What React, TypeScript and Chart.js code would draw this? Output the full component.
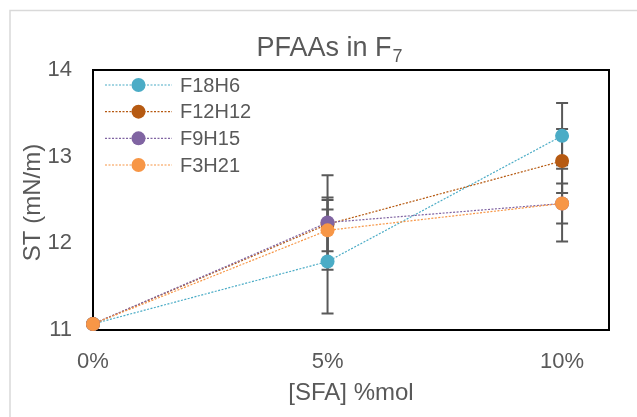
import { useEffect, useRef } from 'react';
import { Chart, registerables } from 'chart.js';

Chart.register(...registerables);

const xValues = [0, 5, 10];
const xTickValues = [0, 5, 10];
const yTickValues = [11, 12, 13, 14];
const seriesNames = ['F18H6', 'F12H12', 'F9H15', 'F3H21'];
const f18h6 = [11.07, 11.79, 13.24];
const f12h12 = [11.07, 12.22, 12.95];
const f9h15 = [11.07, 12.24, 12.46];
const f3h21 = [11.07, 12.15, 12.46];
const f18h6Err = [0, 0.6, 0.38];
const f12h12Err = [0, 0.31, 0.37];
const f9h15Err = [0, 0.545, 0.44];
const f3h21Err = [0, 0.35, 0.23];
const seriesColors = ['#4BACC6', '#B65A12', '#8064A2', '#F79646'];
const chartTitle = 'PFAAs in F';
const chartTitleSub = '7';
const xTitle = '[SFA] %mol';
const yTitle = 'ST (mN/m)';

const FONT = "'Liberation Sans', Arial, sans-serif";
const TEXT = '#595959';

export default function App() {
  const ref = useRef<HTMLCanvasElement | null>(null);

  useEffect(() => {
    if (!ref.current) return;
    const values = [f18h6, f12h12, f9h15, f3h21];
    const errs = [f18h6Err, f12h12Err, f9h15Err, f3h21Err];

    const datasets = seriesNames.map((name, i) => ({
      label: name,
      data: xValues.map((x, j) => ({ x, y: values[i][j] })),
      borderColor: seriesColors[i],
      backgroundColor: seriesColors[i],
      borderWidth: 1.2,
      borderDash: [2, 1.5],
      pointRadius: 7,
      pointHoverRadius: 7,
      pointBorderWidth: 0,
      pointBackgroundColor: seriesColors[i],
      showLine: true,
      clip: false as any,
      order: seriesNames.length - 1 - i,
    }));

    const decor = {
      id: 'decor',
      beforeDraw(chart: any) {
        const ctx = chart.ctx;
        ctx.save();
        ctx.strokeStyle = '#D9D9D9';
        ctx.lineWidth = 1.5;
        ctx.beginPath();
        ctx.moveTo(10, 417);
        ctx.lineTo(10, 10.5);
        ctx.lineTo(637, 10.5);
        ctx.stroke();
        ctx.restore();
      },
      beforeDatasetsDraw(chart: any) {
        const ctx = chart.ctx;
        const a = chart.chartArea;
        const xs = chart.scales.x;
        const ys = chart.scales.y;
        ctx.save();
        ctx.strokeStyle = '#000000';
        ctx.lineWidth = 2;
        ctx.strokeRect(a.left, a.top, a.right - a.left, a.bottom - a.top);
        ctx.strokeStyle = '#595959';
        ctx.lineWidth = 2;
        for (let i = 0; i < seriesNames.length; i++) {
          for (let j = 0; j < xValues.length; j++) {
            const e = errs[i][j];
            if (!e) continue;
            const px = xs.getPixelForValue(xValues[j]);
            const top = ys.getPixelForValue(values[i][j] + e);
            const bot = ys.getPixelForValue(values[i][j] - e);
            ctx.beginPath();
            ctx.moveTo(px, top);
            ctx.lineTo(px, bot);
            ctx.moveTo(px - 6, top);
            ctx.lineTo(px + 6, top);
            ctx.moveTo(px - 6, bot);
            ctx.lineTo(px + 6, bot);
            ctx.stroke();
          }
        }
        ctx.restore();
      },
      afterDraw(chart: any) {
        const ctx = chart.ctx;
        const a = chart.chartArea;
        ctx.save();
        ctx.fillStyle = TEXT;
        // title
        ctx.font = `27px ${FONT}`;
        const w1 = ctx.measureText(chartTitle).width;
        ctx.font = `18px ${FONT}`;
        const w2 = ctx.measureText(chartTitleSub).width;
        const start = 329 - (w1 + w2) / 2;
        ctx.textBaseline = 'alphabetic';
        ctx.textAlign = 'left';
        ctx.font = `27px ${FONT}`;
        ctx.fillText(chartTitle, start, 56);
        ctx.font = `18px ${FONT}`;
        ctx.fillText(chartTitleSub, start + w1 + 1, 62);
        // axis titles
        ctx.font = `24px ${FONT}`;
        ctx.textAlign = 'center';
        ctx.fillText(xTitle, (a.left + a.right) / 2, 400);
        ctx.save();
        ctx.translate(40, 202.5);
        ctx.rotate(-Math.PI / 2);
        ctx.fillText(yTitle, 0, 0);
        ctx.restore();
        // legend
        ctx.font = `20px ${FONT}`;
        ctx.textAlign = 'left';
        ctx.textBaseline = 'middle';
        for (let i = 0; i < seriesNames.length; i++) {
          const y = 85 + i * 26.67;
          ctx.strokeStyle = seriesColors[i];
          ctx.lineWidth = 1.2;
          ctx.setLineDash([2, 1.5]);
          ctx.beginPath();
          ctx.moveTo(105, y);
          ctx.lineTo(172, y);
          ctx.stroke();
          ctx.setLineDash([]);
          ctx.fillStyle = seriesColors[i];
          ctx.beginPath();
          ctx.arc(138.5, y, 7, 0, Math.PI * 2);
          ctx.fill();
          ctx.fillStyle = TEXT;
          ctx.fillText(seriesNames[i], 180, y + 1);
        }
        ctx.restore();
      },
    };

    const chart = new Chart(ref.current, {
      type: 'scatter',
      data: { datasets: datasets as any },
      options: {
        animation: false,
        responsive: false,
        events: [],
        layout: { padding: { left: 0, top: 70, right: 28, bottom: 0 } },
        plugins: {
          legend: { display: false },
          title: { display: false },
          tooltip: { enabled: false },
        },
        scales: {
          x: {
            type: 'linear',
            min: 0,
            max: 11,
            grid: { display: false, drawTicks: false },
            border: { display: false },
            afterFit: (s: any) => { s.height = 87; },
            afterBuildTicks: (s: any) => { s.ticks = xTickValues.map((v) => ({ value: v })); },
            ticks: {
              padding: 19,
              color: TEXT,
              font: { family: FONT, size: 22 },
              callback: (v: any) => `${v}%`,
            },
          },
          y: {
            type: 'linear',
            min: 11,
            max: 14,
            grid: { display: false, drawTicks: false },
            border: { display: false },
            afterFit: (s: any) => { s.width = 93; },
            afterBuildTicks: (s: any) => { s.ticks = yTickValues.map((v) => ({ value: v })); },
            ticks: {
              padding: 21,
              color: TEXT,
              font: { family: FONT, size: 22 },
            },
          },
        },
      },
      plugins: [decor],
    });
    return () => chart.destroy();
  }, []);

  return (
    <div style={{ position: 'absolute', left: 0, top: 0, width: 637, height: 417, background: '#fff' }}>
      <canvas ref={ref} width={637} height={417} style={{ width: 637, height: 417, display: 'block' }} />
    </div>
  );
}
